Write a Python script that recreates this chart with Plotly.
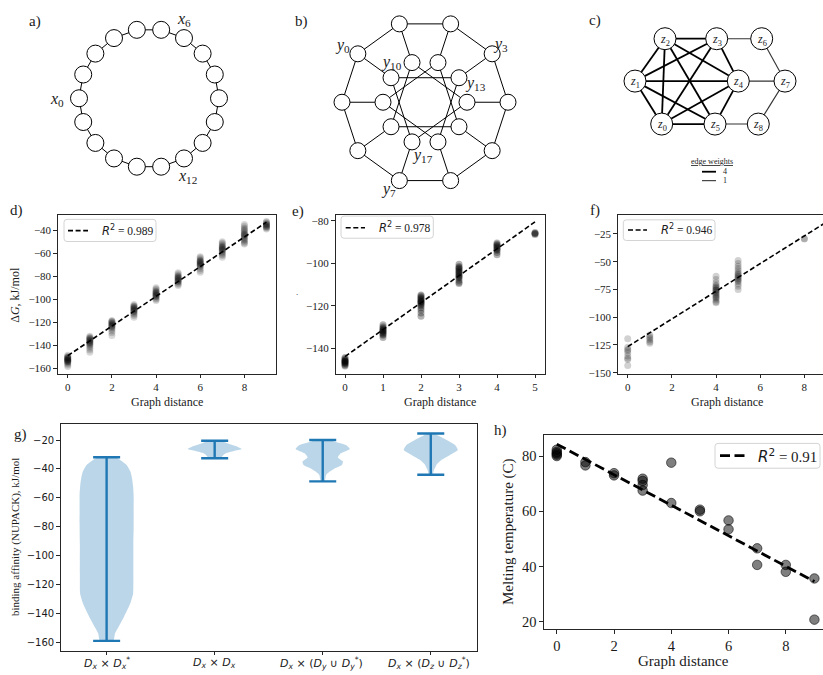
import math
import plotly.graph_objects as go

W, H = 823, 675
SERIF = "Liberation Serif"
SANS = "DejaVu Sans"
INK = "#1a1a1a"
BLUE = "#1f77b4"

# ===================== data =====================
# d) ring graph
d_dist = [0, 1, 2, 3, 4, 5, 6, 7, 8, 9]
d_dG = [
    [-148.5, -149.5, -150, -150.5, -151, -151, -151.5, -152, -152, -152.5, -153, -153, -153.5, -154, -154, -154.5, -155, -156, -157, -158.3],
    [-132, -133, -133.5, -134, -134.5, -135, -135.5, -136, -136.5, -137, -137.5, -138, -138.5, -139, -140, -141, -142.5, -144, -146],
    [-118.5, -119, -119.5, -120, -120.5, -121, -121.5, -122, -122.5, -123, -123.5, -124, -125, -126, -127.5, -129, -131.5],
    [-104.5, -105.5, -106, -106.5, -107, -107.5, -108, -108.5, -109, -109.5, -110, -110.5, -111, -112, -113, -114, -115.5],
    [-90, -91, -92, -93, -93.5, -94, -94.5, -95, -95.5, -96, -96.5, -97, -97.5, -98, -99, -100, -101],
    [-77, -78, -79, -80, -80.5, -81, -81.5, -82, -82.5, -83, -83.5, -84, -84.5, -85, -86, -87, -88],
    [-63, -64, -65, -66, -66.5, -67, -67.5, -68, -68.5, -69, -69.5, -70, -70.5, -71, -72, -73.5, -75, -76.5],
    [-50, -51, -52, -53, -54, -54.5, -55, -55.5, -56, -56.5, -57, -57.5, -58, -59, -60, -61, -62, -63.5],
    [-35, -36.5, -38, -39, -40, -41, -42, -43, -43.5, -44, -44.5, -45, -46, -47, -48, -49, -50, -51, -52],
    [-32.5, -33, -34, -34.5, -35, -35.5, -36, -36.5, -37, -37.5, -38, -39],
]
d_fit_x = [0, 9]
d_fit_y = [-149.0, -33.0]
d_r2 = "0.989"

# e) graph y
e_dist = [0, 1, 2, 3, 4, 5]
e_dG = [
    [-144.5, -145, -145.5, -146, -146, -146.5, -146.5, -147, -147, -147.5, -148, -148.5],
    [-129, -130, -130.5, -131, -131.5, -132, -132, -132.5, -133, -133.5, -134, -135],
    [-115, -115.5, -116, -116.5, -117, -117.5, -118, -118, -118.5, -119, -119.5, -120, -121, -122, -123.5, -125],
    [-100.5, -101.5, -102, -102.5, -103, -103.5, -104, -104.5, -105, -105.5, -106, -106.5, -107, -108, -109, -109.5],
    [-90.5, -91, -91.5, -92, -92.5, -93, -93.5, -94, -95, -96],
    [-85.5, -86, -86, -86.5],
]
e_fit_x = [0, 5]
e_fit_y = [-144.0, -80.5]
e_r2 = "0.978"

# f) graph z
f_dist = [0, 1, 4, 5, 8, 9]
f_dG = [
    [-119.5, -127, -129, -130, -132, -135, -137, -138, -143.5],
    [-116, -117.5, -119, -120.5, -122, -123.5],
    [-63, -66, -69, -71, -72, -73, -74, -75, -75.5, -76, -77, -78, -79, -80, -81, -82, -83, -84.5, -86, -87],
    [-49, -51.5, -54, -56, -58, -60, -61, -62, -63, -64, -65, -66, -67, -68, -70, -72, -75],
    [-29, -29.5],
    [-24, -27, -29.5],
]
f_fit_x = [0, 9]
f_fit_y = [-126.5, -14.3]
f_r2 = "0.946"

# g) violins of binding affinity
g_pos = [1, 2, 3, 4]
g_labels = [
    "<i>D<sub>x</sub></i> × <i>D<sub>x</sub><sup>*</sup></i>",
    "<i>D<sub>x</sub></i> × <i>D<sub>x</sub></i>",
    "<i>D<sub>x</sub></i> × (<i>D<sub>y</sub></i> ∪ <i>D<sub>y</sub><sup>*</sup></i>)",
    "<i>D<sub>x</sub></i> × (<i>D<sub>z</sub></i> ∪ <i>D<sub>z</sub><sup>*</sup></i>)",
]
g_min = [-158.9, -32.6, -48.6, -44.0]
g_max = [-31.9, -20.5, -20.0, -15.5]
g_kde_y = [
    [-31.9, -32.6, -37.2, -41.8, -46.4, -52.0, -57.8, -70.0, -81.0, -92.0, -103.5, -115.0, -126.4, -133.3, -142.4, -149.3, -153.8, -158.9],
    [-20.5, -22.3, -24.6, -26.2, -27.6, -29.2, -30.8, -32.6],
    [-20.0, -21.2, -23.5, -26.2, -29.2, -32.1, -34.9, -37.2, -39.5, -41.8, -44.1, -48.6],
    [-15.5, -16.2, -20.0, -23.5, -26.9, -30.3, -33.7, -37.2, -40.6, -44.0],
]
g_kde_w = [
    [0.30, 0.40, 0.74, 0.88, 0.94, 0.98, 1.0, 1.0, 1.0, 0.99, 0.99, 0.99, 0.98, 0.87, 0.64, 0.44, 0.31, 0.25],
    [0.25, 0.47, 0.84, 1.0, 0.71, 0.41, 0.30, 0.22],
    [0.30, 0.44, 0.86, 1.0, 0.67, 0.56, 0.75, 0.71, 0.45, 0.26, 0.13, 0.07],
    [0.11, 0.19, 0.59, 0.90, 1.0, 0.71, 0.40, 0.21, 0.12, 0.07],
]

# h) melting temperature
h_dist = [0, 0, 0, 0, 0, 1, 1, 2, 2, 3, 3, 3, 3, 4, 4, 5, 5, 6, 6, 7, 7, 8, 8, 9, 9]
h_tm = [80.0, 80.5, 81.0, 81.5, 82.3, 77.8, 76.6, 73.8, 73.0, 71.8, 71.0, 69.5, 67.5,
        77.6, 63.0, 60.6, 60.0, 56.7, 53.5, 46.6, 40.6, 40.6, 38.1, 35.7, 20.8]
h_fit_x = [0, 9]
h_fit_y = [84.3, 34.6]
h_r2 = "0.91"

# graphs a), b), c)
a_nodes = 18
a_labelled = [0, 6, 12]
b_ring = 10
b_skip = 3
b_labelled = [0, 3, 7, 10, 13, 17]
c_edges_w4 = [(0, 1), (0, 2), (0, 3), (0, 4), (0, 5), (1, 2), (1, 3), (1, 4), (1, 5),
              (2, 3), (2, 4), (2, 5), (3, 4), (4, 5)]
c_edges_w1 = [(3, 6), (6, 7), (4, 7), (7, 8), (5, 8)]

# ===================== layout (pixels) =====================
A_C, A_R = (149, 99), 70
A_LBL = {0: (-22, 1), 6: (0, -19), 12: (3, 18)}
B_C, B_RO, B_RI = (425, 103), 83, 42
B_LBL = {0: (-15, -8), 3: (8, -9), 7: (-11, 9), 10: (0, -15), 13: (17, 6), 17: (10, 14)}
C_XY = {0: (661.7, 125), 1: (635, 81.7), 2: (665, 39), 3: (716.7, 39), 4: (738.3, 81.7),
        5: (715, 125), 6: (761.7, 39), 7: (785, 81.7), 8: (758.3, 125)}

fig = go.Figure()
layout = dict(width=W, height=H, margin=dict(l=0, r=0, t=0, b=0),
              paper_bgcolor="white", plot_bgcolor="rgba(0,0,0,0)", showlegend=False)
anns, shapes = [], []


def PX(v):
    return v / W


def PY(v):
    return 1 - v / H


def sfx(n):
    return "" if n == 1 else str(n)


def axes(n, xpx, ypx, xr, yr, xt=None, yt=None, tf=None, mirror_y=True, visible=True,
         xtt=None):
    s = sfx(n)
    com = dict(showgrid=False, zeroline=False, showline=True, linecolor="#262626", linewidth=1,
               ticks="outside", ticklen=3.5, tickwidth=0.8, tickcolor="#262626",
               tickfont=tf, fixedrange=True, visible=visible)
    xa = dict(domain=[PX(xpx[0]), PX(xpx[1])], range=xr, anchor="y" + s, mirror=True, **com)
    if xt is not None:
        xa["tickvals"] = xt
    if xtt is not None:
        xa["ticktext"] = xtt
    ya = dict(domain=[PY(ypx[1]), PY(ypx[0])], range=yr, anchor="x" + s, mirror=mirror_y, **com)
    if yt is not None:
        ya["tickvals"] = yt
    layout["xaxis" + s] = xa
    layout["yaxis" + s] = ya


def text(x, y, s, size, family=SERIF, xa="center", ya="middle", angle=0, color=INK):
    anns.append(dict(x=PX(x), y=PY(y), xref="paper", yref="paper", text=s, showarrow=False,
                     font=dict(size=size, family=family, color=color), xanchor=xa, yanchor=ya,
                     textangle=angle))


def rrect(x0, y0, x1, y1, r=3):
    p = (f"M {PX(x0+r)},{PY(y0)} L {PX(x1-r)},{PY(y0)} Q {PX(x1)},{PY(y0)} {PX(x1)},{PY(y0+r)} "
         f"L {PX(x1)},{PY(y1-r)} Q {PX(x1)},{PY(y1)} {PX(x1-r)},{PY(y1)} "
         f"L {PX(x0+r)},{PY(y1)} Q {PX(x0)},{PY(y1)} {PX(x0)},{PY(y1-r)} "
         f"L {PX(x0)},{PY(y0+r)} Q {PX(x0)},{PY(y0)} {PX(x0+r)},{PY(y0)} Z")
    shapes.append(dict(type="path", xref="paper", yref="paper", path=p,
                       line=dict(color="#d4d4d4", width=1), fillcolor="rgba(255,255,255,0.85)",
                       layer="above"))


def legend(box, dash, tx, r2, size, lw, dp):
    rrect(*box)
    shapes.append(dict(type="line", xref="paper", yref="paper", x0=PX(dash[0]), x1=PX(dash[1]),
                       y0=PY(dash[2]), y1=PY(dash[2]), line=dict(color="black", width=lw, dash=dp),
                       layer="above"))
    s = f'<span style="font-family:DejaVu Sans"><i>R</i><sup>2</sup></span> = {r2}'
    text(tx, dash[2], s, size, xa="left")


tf_small = dict(family=SERIF, size=11, color=INK)

# ---- axes ----
axes(1, (57.8, 276.4), (216.5, 376.5), [-0.45, 9.45], [-164.6, -26.7],
     [0, 2, 4, 6, 8], [-160, -140, -120, -100, -80, -60, -40], tf_small)
axes(2, (335.5, 544.5), (216.5, 376.5), [-0.25, 5.25], [-152.1, -77.2],
     [0, 1, 2, 3, 4, 5], [-140, -120, -100, -80], tf_small)
axes(3, (617.8, 823), (216.5, 376.5), [-0.45, 8.845], [-150.9, -7.8],
     [0, 2, 4, 6, 8], [-150, -125, -100, -75, -50, -25], tf_small, mirror_y=False)
axes(4, (60.7, 476.7), (426.7, 655.7), [0.575, 4.425], [-165.8, -8.6],
     g_pos, [-160, -140, -120, -100, -80, -60, -40, -20], dict(family=SANS, size=10, color=INK),
     xtt=["", "", "", ""])
axes(5, (543.9, 823), (438, 634), [-0.45, 9.30], [17.3, 87.7],
     [0, 2, 4, 6, 8], [20, 40, 60, 80], dict(family=SERIF, size=14.5, color=INK), mirror_y=False)
axes(6, (0, 280), (0, 195), [0, 280], [195, 0], visible=False)
axes(7, (280, 560), (0, 195), [280, 560], [195, 0], visible=False)
axes(8, (560, 823), (0, 195), [560, 823], [195, 0], visible=False)


def sc(n, x, y, **kw):
    s = sfx(n)
    fig.add_trace(go.Scatter(x=x, y=y, xaxis="x" + s, yaxis="y" + s, hoverinfo="skip", **kw))


# ---- d, e, f scatter ----
for n, dist, vals, fx, fy, alpha in [(1, d_dist, d_dG, d_fit_x, d_fit_y, 0.15),
                                     (2, e_dist, e_dG, e_fit_x, e_fit_y, 0.3),
                                     (3, f_dist, f_dG, f_fit_x, f_fit_y, 0.18)]:
    xs = [dd for dd, col in zip(dist, vals) for _ in col]
    ys = [v for col in vals for v in col]
    sc(n, xs, ys, mode="markers", marker=dict(size=7, color=f"rgba(0,0,0,{alpha})", line=dict(width=0)))
    sc(n, fx, fy, mode="lines", line=dict(color="black", width=1.6, dash="5px,2.6px"))

# ---- g violins ----
for p, yy, ww, lo, hi in zip(g_pos, g_kde_y, g_kde_w, g_min, g_max):
    xs = [p + 0.25 * w for w in ww] + [p - 0.25 * w for w in ww[::-1]]
    ys = yy + yy[::-1]
    sc(4, xs, ys, mode="lines", fill="toself", fillcolor="rgba(31,119,180,0.3)",
       line=dict(width=0, shape="spline", smoothing=0.5))
    sc(4, [p, p, None, p - 0.125, p + 0.125, None, p - 0.125, p + 0.125],
       [lo, hi, None, lo, lo, None, hi, hi], mode="lines", line=dict(color=BLUE, width=2.4))
g_lab_x = [106.7, 214.0, 321.7, 429.0]
for xx, lab in zip(g_lab_x, g_labels):
    text(xx, 668, lab, 11, family=SANS)

# ---- h ----
sc(5, h_dist, h_tm, mode="markers",
   marker=dict(size=9.5, color="rgba(0,0,0,0.5)", line=dict(width=1, color="rgba(0,0,0,0.55)")))
sc(5, h_fit_x, h_fit_y, mode="lines", line=dict(color="black", width=2.8, dash="10px,4.5px"))

# ---- a) ring graph ----
a_xy = []
for k in range(a_nodes):
    t = math.pi - 2 * math.pi * k / a_nodes
    a_xy.append((A_C[0] + A_R * math.cos(t), A_C[1] - A_R * math.sin(t)))
ex, ey = [], []
for k in range(a_nodes):
    p, q = a_xy[k], a_xy[(k + 1) % a_nodes]
    ex += [p[0], q[0], None]
    ey += [p[1], q[1], None]
sc(6, ex, ey, mode="lines", line=dict(color="black", width=1))
sc(6, [p[0] for p in a_xy], [p[1] for p in a_xy], mode="markers",
   marker=dict(size=17, color="white", line=dict(color="black", width=1)))
for k in a_labelled:
    x, y = a_xy[k]
    o = A_LBL[k]
    text(x + o[0], y + o[1], f"<i>x</i><sub>{k}</sub>", 16)

# ---- b) generalized Petersen graph ----
b_xy = []
for ring_r in (B_RO, B_RI):
    for k in range(b_ring):
        t = math.radians(144 - 36 * k)
        b_xy.append((B_C[0] + ring_r * math.cos(t), B_C[1] - ring_r * math.sin(t)))
b_edges = [(k, (k + 1) % b_ring) for k in range(b_ring)]
b_edges += [(k, k + b_ring) for k in range(b_ring)]
b_edges += [(k + b_ring, (k + b_skip) % b_ring + b_ring) for k in range(b_ring)]
ex, ey = [], []
for i, j in b_edges:
    ex += [b_xy[i][0], b_xy[j][0], None]
    ey += [b_xy[i][1], b_xy[j][1], None]
sc(7, ex, ey, mode="lines", line=dict(color="black", width=1))
sc(7, [p[0] for p in b_xy], [p[1] for p in b_xy], mode="markers",
   marker=dict(size=16, color="white", line=dict(color="black", width=1)))
for k in b_labelled:
    x, y = b_xy[k]
    o = B_LBL[k]
    text(x + o[0], y + o[1], f"<i>y</i><sub>{k}</sub>", 16)

# ---- c) weighted graph ----
for edges, lw, col in [(c_edges_w1, 1.1, "#333333"), (c_edges_w4, 1.8, "black")]:
    ex, ey = [], []
    for i, j in edges:
        ex += [C_XY[i][0], C_XY[j][0], None]
        ey += [C_XY[i][1], C_XY[j][1], None]
    sc(8, ex, ey, mode="lines", line=dict(color=col, width=lw))
sc(8, [C_XY[k][0] for k in range(9)], [C_XY[k][1] for k in range(9)], mode="markers",
   marker=dict(size=22, color="white", line=dict(color="black", width=1)))
for k in range(9):
    text(C_XY[k][0], C_XY[k][1] + 1, f"<i>z</i><sub>{k}</sub>", 12)
text(712, 163, "<u>edge weights</u>", 8)
for yy, w, lab, col in [(173, 1.8, "4", "black"), (182, 1.1, "1", "#333333")]:
    shapes.append(dict(type="line", xref="paper", yref="paper", x0=PX(702), x1=PX(716),
                       y0=PY(yy), y1=PY(yy), line=dict(color=col, width=w)))
    text(721, yy, lab, 8, xa="left")

# ---- legends ----
legend((64, 221, 156, 243.3), (68, 88, 232.3), 100, d_r2, 11.5, 1.6, "5px,2.6px")
legend((341, 217.7, 433.3, 240), (345.7, 365, 229.5), 376.7, e_r2, 11.5, 1.6, "5px,2.6px")
legend((623.3, 221.5, 715, 242.3), (628, 647, 231.7), 659, f_r2, 11.5, 1.6, "5px,2.6px")
legend((715, 446.7, 820, 471.7), (720, 745, 459), 756, h_r2, 15, 2.8, "10px,4.5px")

# ---- axis titles ----
text(167, 405.5, "Graph distance", 12)
text(15, 297, "Δ<i>G</i>, kJ/mol", 12, angle=-90)
text(440, 405, "Graph distance", 12)
text(297, 294, ".", 9)
text(727, 405, "Graph distance", 12)
text(16, 541, "binding affinity (NUPACK), kJ/mol", 11, angle=-90)
text(683, 665.5, "Graph distance", 15)
text(508, 536, "Melting temperature (C)", 15, angle=-90)

# ---- panel letters ----
for lab, x, y in [("a)", 27, 22), ("b)", 293, 22), ("c)", 587, 21), ("d)", 8, 212),
                  ("e)", 290, 213), ("f)", 588, 212), ("g)", 12, 438), ("h)", 492, 434)]:
    text(x, y, lab, 15, xa="left")

layout["annotations"] = anns
layout["shapes"] = shapes
fig.update_layout(**layout)
fig.write_html("out.html", config={"displayModeBar": False},
               post_script="document.body.style.margin='0px';document.body.style.overflow='hidden';")
